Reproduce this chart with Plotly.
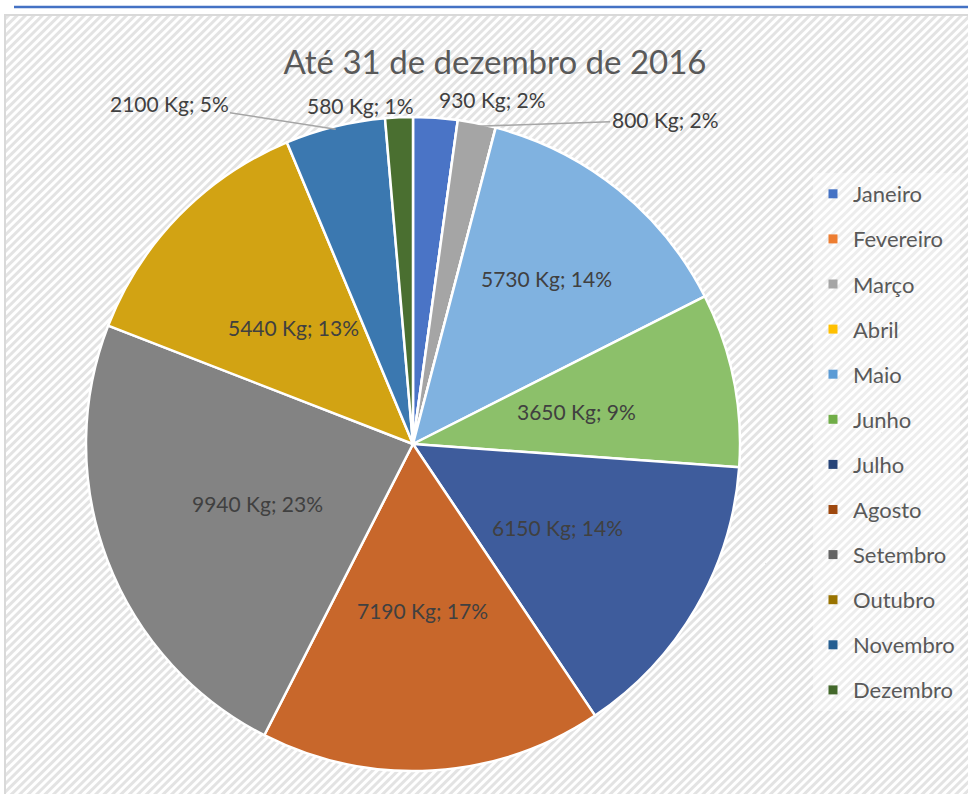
import base64
import math
import plotly.graph_objects as go

# ---- data ----
months = ["Janeiro", "Fevereiro", "Março", "Abril", "Maio", "Junho",
          "Julho", "Agosto", "Setembro", "Outubro", "Novembro", "Dezembro"]
kg = [930, 0, 800, 0, 5730, 3650, 6150, 7190, 9940, 5440, 2100, 580]
pct_labels = ["2%", "0%", "2%", "0%", "14%", "9%", "14%", "17%", "23%", "13%", "5%", "1%"]
slice_colors = ["#4A74C6", "#ED7D31", "#A5A5A5", "#FFC000", "#80B2E0", "#8CC06A",
                "#3E5C9C", "#C8672B", "#838383", "#D2A313", "#3B78B0", "#4A6F30"]
legend_colors = ["#4472C4", "#ED7D31", "#A5A5A5", "#FFC000", "#5B9BD5", "#70AD47",
                 "#264478", "#9E480E", "#636363", "#997300", "#255E91", "#43682B"]
title = "Até 31 de dezembro de 2016"

# ---- layout / style ----
W, H = 968, 794
FONT = "Lato"
cx, cy, R = 413, 444, 327          # pie centre and radius in pixels
inside_r = {4: 0.65}               # label radius factor overrides (default 0.51)
outside_pos = {0: (492, 100, False), 2: (665, 120, True),
               10: (169, 103, True), 11: (360, 105, False)}  # label centre, leader line

fig = go.Figure()
fig.add_trace(go.Pie(
    labels=months, values=kg, textinfo="none",
    sort=False, direction="clockwise", rotation=0,
    marker=dict(colors=slice_colors, line=dict(color="white", width=2.5)),
    showlegend=False, hoverinfo="label+value+percent",
    domain=dict(x=[(cx - R) / W, (cx + R) / W], y=[1 - (cy + R) / H, 1 - (cy - R) / H]),
))

for i, (m, c) in enumerate(zip(months, legend_colors)):
    fig.add_trace(go.Scatter(
        x=[None], y=[None], mode="markers", name=m,
        marker=dict(symbol="square", size=9, color=c),
        legendgroup=f"g{i}", showlegend=True,
    ))

# data labels
total = sum(kg)
annotations = []
cum = 0
for i, (v, p) in enumerate(zip(kg, pct_labels)):
    if v == 0:
        continue
    theta = math.radians((cum + v / 2) / total * 360)
    cum += v
    label = f"{v} Kg; {p}"
    if i in outside_pos:
        lx, ly, line = outside_pos[i]
        hx, hy = cx + (R - 3) * math.sin(theta), cy - (R - 3) * math.cos(theta)
        annotations.append(dict(
            text=label, x=hx / W, y=1 - hy / H, xref="paper", yref="paper",
            showarrow=True, arrowhead=0, arrowwidth=1.5, standoff=0,
            arrowcolor="#a6a6a6" if line else "rgba(0,0,0,0)",
            ax=lx - hx, ay=ly - hy,
            font=dict(family=FONT, size=21, color="#404040")))
    else:
        f = inside_r.get(i, 0.51)
        lx, ly = cx + f * R * math.sin(theta), cy - f * R * math.cos(theta)
        annotations.append(dict(
            text=label, x=lx / W, y=1 - ly / H, xref="paper", yref="paper",
            showarrow=False, xanchor="center", yanchor="middle",
            font=dict(family=FONT, size=21, color="#404040")))

# striped background as svg pattern
svg = f'''<svg xmlns="http://www.w3.org/2000/svg" width="{W}" height="{H}">
<defs><pattern id="p" width="6" height="6" patternUnits="userSpaceOnUse" patternTransform="rotate(45)">
<rect width="6" height="6" fill="#ffffff"/><rect width="3" height="6" fill="#e3e3e3"/></pattern></defs>
<rect width="{W}" height="{H}" fill="url(#p)"/></svg>'''
src = "data:image/svg+xml;base64," + base64.b64encode(svg.encode()).decode()

fig.update_layout(
    width=W, height=H,
    margin=dict(l=0, r=0, t=0, b=0),
    paper_bgcolor="white", plot_bgcolor="rgba(0,0,0,0)",
    xaxis=dict(visible=False), yaxis=dict(visible=False),
    title=dict(text=title, x=495 / W, xanchor="center", y=1 - 62 / H, yanchor="middle",
               font=dict(family=FONT, size=33, color="#595959")),
    legend=dict(x=813 / W, xanchor="left", y=1 - 173 / H, yanchor="top",
                font=dict(family=FONT, size=22, color="#595959"),
                tracegroupgap=13.5, bgcolor="rgba(255,255,255,0.35)", itemclick=False),
    annotations=annotations,
    images=[dict(source=src, xref="paper", yref="paper", x=6 / W, y=1 - 16 / H,
                 sizex=(W - 6) / W, sizey=(H - 16) / H, xanchor="left", yanchor="top",
                 sizing="stretch", layer="below")],
    shapes=[
        dict(type="rect", xref="paper", yref="paper", x0=5 / W, x1=1.01, y0=-0.01, y1=1 - 15 / H,
             line=dict(color="#d9d9d9", width=2), fillcolor="rgba(0,0,0,0)", layer="below"),
        dict(type="line", xref="paper", yref="paper", x0=14 / W, x1=1, y0=1 - 7 / H, y1=1 - 7 / H,
             line=dict(color="#4472C4", width=2.5)),
    ],
)
fig.write_html("out.html", config={"displayModeBar": False},
               post_script="document.body.style.margin='0px';")
